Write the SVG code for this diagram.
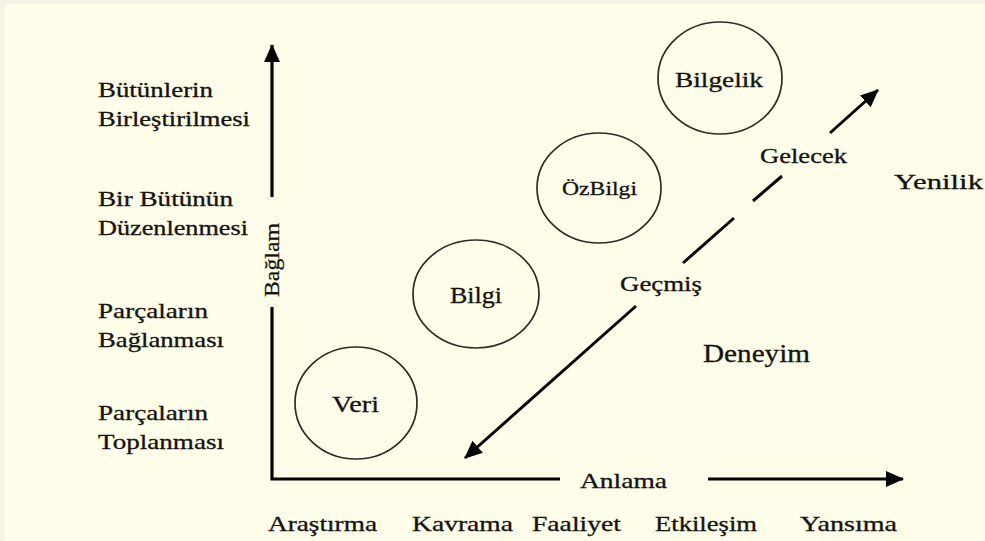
<svg xmlns="http://www.w3.org/2000/svg" width="985" height="541" viewBox="0 0 985 541">
  <style>
    .lbl { font-family: "Liberation Serif", "Times New Roman", serif; fill: #15130f; stroke: #15130f; stroke-width: 0.3; }
    .side { font-size: 21px; }
    .axis { font-size: 21px; }
    .node ellipse { fill: none; stroke: #2e2a26; stroke-width: 1.7; }
    .ax { fill: none; stroke: #050505; stroke-width: 3.2; }
    .diag { fill: none; stroke: #050505; stroke-width: 3; }
  </style>
  <defs>
    <marker id="head" viewBox="0 0 18 16" refX="17" refY="8" markerWidth="18" markerHeight="16" markerUnits="userSpaceOnUse" orient="auto-start-reverse">
      <path d="M0,0 L18,8 L0,16 z" fill="#050505"/>
    </marker>
  </defs>

  <!-- page -->
  <rect x="0" y="0" width="985" height="541" fill="#f4f3e6"/>
  <rect x="5" y="4" width="980" height="537" fill="#fefde9"/>

  <!-- row labels along the vertical axis -->
  <g id="row-labels" class="lbl side">
    <text x="98" y="97" textLength="115" lengthAdjust="spacingAndGlyphs">Bütünlerin</text>
    <text x="98" y="126" textLength="152" lengthAdjust="spacingAndGlyphs">Birleştirilmesi</text>
    <text x="98" y="206" textLength="135" lengthAdjust="spacingAndGlyphs">Bir Bütünün</text>
    <text x="98" y="235" textLength="150" lengthAdjust="spacingAndGlyphs">Düzenlenmesi</text>
    <text x="98" y="318" textLength="110" lengthAdjust="spacingAndGlyphs">Parçaların</text>
    <text x="98" y="347" textLength="126" lengthAdjust="spacingAndGlyphs">Bağlanması</text>
    <text x="98" y="420" textLength="110" lengthAdjust="spacingAndGlyphs">Parçaların</text>
    <text x="98" y="449" textLength="126" lengthAdjust="spacingAndGlyphs">Toplanması</text>
  </g>

  <!-- column labels under the horizontal axis -->
  <g id="column-labels" class="lbl axis">
    <text x="268" y="531" textLength="109" lengthAdjust="spacingAndGlyphs">Araştırma</text>
    <text x="412" y="531" textLength="101" lengthAdjust="spacingAndGlyphs">Kavrama</text>
    <text x="532" y="531" textLength="89" lengthAdjust="spacingAndGlyphs">Faaliyet</text>
    <text x="655" y="531" textLength="102" lengthAdjust="spacingAndGlyphs">Etkileşim</text>
    <text x="800" y="531" textLength="97" lengthAdjust="spacingAndGlyphs">Yansıma</text>
  </g>

  <!-- axis titles and free labels -->
  <g id="axis-titles" class="lbl">
    <text x="580" y="488" font-size="21" textLength="87" lengthAdjust="spacingAndGlyphs">Anlama</text>
    <text transform="translate(279,297) rotate(-90)" font-size="22" textLength="74" lengthAdjust="spacingAndGlyphs">Bağlam</text>
    <text x="703" y="362" font-size="25" textLength="107" lengthAdjust="spacingAndGlyphs">Deneyim</text>
    <text x="894" y="189" font-size="22" textLength="89" lengthAdjust="spacingAndGlyphs">Yenilik</text>
    <text x="620" y="291" font-size="22" textLength="82" lengthAdjust="spacingAndGlyphs">Geçmiş</text>
    <text x="760" y="163" font-size="22" textLength="87" lengthAdjust="spacingAndGlyphs">Gelecek</text>
  </g>

  <!-- nodes -->
  <g id="veri" class="node lbl">
    <ellipse cx="356" cy="403" rx="61" ry="56"/>
    <text x="332" y="412" font-size="24" textLength="47" lengthAdjust="spacingAndGlyphs">Veri</text>
  </g>
  <g id="bilgi" class="node lbl">
    <ellipse cx="476" cy="294" rx="63" ry="54"/>
    <text x="450" y="303" font-size="24" textLength="52" lengthAdjust="spacingAndGlyphs">Bilgi</text>
  </g>
  <g id="ozbilgi" class="node lbl">
    <ellipse cx="599" cy="188" rx="62" ry="55"/>
    <text x="562" y="195" font-size="19" textLength="75" lengthAdjust="spacingAndGlyphs">ÖzBilgi</text>
  </g>
  <g id="bilgelik" class="node lbl">
    <ellipse cx="720" cy="78" rx="62" ry="56"/>
    <text x="675" y="87" font-size="22" textLength="88" lengthAdjust="spacingAndGlyphs">Bilgelik</text>
  </g>

  <!-- connectors -->
  <g id="connectors">
    <!-- axes -->
    <path class="ax" d="M272,307 V479 H560"/>
    <path class="ax" d="M272,197 V45" marker-end="url(#head)"/>
    <path class="ax" d="M708,479 H903" marker-end="url(#head)"/>
    <!-- past / future diagonal -->
    <path class="diag" d="M636,306 L465,458" marker-end="url(#head)"/>
    <path class="diag" d="M683,263 L734,218"/>
    <path class="diag" d="M753,201 L782,176"/>
    <path class="diag" d="M830,133 L878,90" marker-end="url(#head)"/>
  </g>
</svg>
